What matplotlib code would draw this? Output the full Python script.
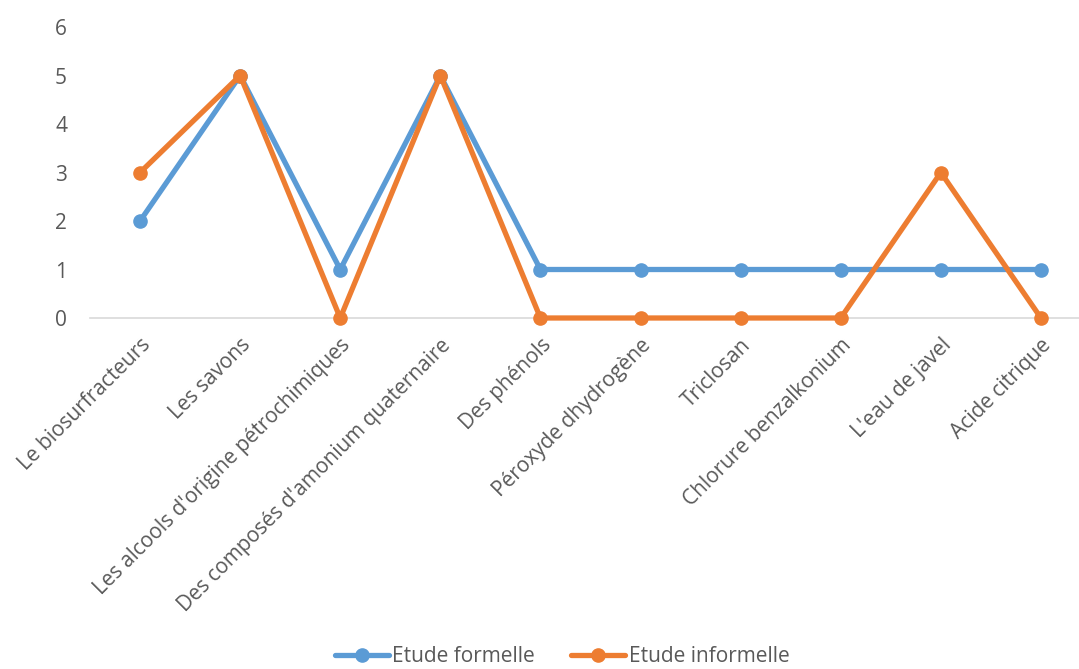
import matplotlib
matplotlib.use("Agg")
import matplotlib.pyplot as plt

categories = [
    "Le biosurfracteurs",
    "Les savons",
    "Les alcools d'origine pétrochimiques",
    "Des composés d'amonium quaternaire",
    "Des phénols",
    "Péroxyde dhydrogène",
    "Triclosan",
    "Chlorure benzalkonium",
    "L'eau de javel",
    "Acide citrique",
]
formelle = [2, 5, 1, 5, 1, 1, 1, 1, 1, 1]
informelle = [3, 5, 0, 5, 0, 0, 0, 0, 3, 0]
yticks = [0, 1, 2, 3, 4, 5, 6]

BLUE = "#5B9BD5"
ORANGE = "#ED7D31"
TEXT = "#595959"
FS = 15

plt.rcParams["font.family"] = ["Open Sans", "DejaVu Sans"]

W, H = 1079, 669
fig = plt.figure(figsize=(W / 100, H / 100), dpi=100)
left_px, right_px, top_px, bottom_px = 90, 1079, 27, 318
ax = fig.add_axes([left_px / W, 1 - bottom_px / H,
                   (right_px - left_px) / W, (bottom_px - top_px) / H])

x = list(range(len(categories)))
ax.plot(x, formelle, color=BLUE, lw=3.8, marker="o", ms=9.5,
        solid_capstyle="round", label="Etude formelle", zorder=3,
        clip_on=False)
ax.plot(x, informelle, color=ORANGE, lw=3.8, marker="o", ms=9.5,
        solid_capstyle="round", label="Etude informelle", zorder=4,
        clip_on=False)

step = 100.1
ax.set_xlim(-0.5, -0.5 + (right_px - left_px) / step)
ax.set_ylim(0, 6)
ax.set_yticks(yticks)
ax.set_yticklabels([str(v) for v in yticks])
ax.set_xticks(x)
ax.set_xticklabels(categories, rotation=45, ha="right", va="top",
                   rotation_mode="anchor")

for s in ["top", "right", "left"]:
    ax.spines[s].set_visible(False)
ax.spines["bottom"].set_color("#D9D9D9")
ax.spines["bottom"].set_linewidth(1.2)
ax.spines["bottom"].set_zorder(1)
ax.tick_params(axis="both", length=0, colors=TEXT, labelsize=FS)
ax.tick_params(axis="y", pad=16.5)
ax.tick_params(axis="x", pad=12)
ax.patch.set_visible(False)

fig.legend(loc="center", bbox_to_anchor=(562 / W, 1 - 657 / H), ncol=2,
           frameon=False, fontsize=FS, labelcolor=TEXT, handlelength=2.6,
           handletextpad=0.15, columnspacing=1.75)

fig.savefig("out.png", dpi=100)
